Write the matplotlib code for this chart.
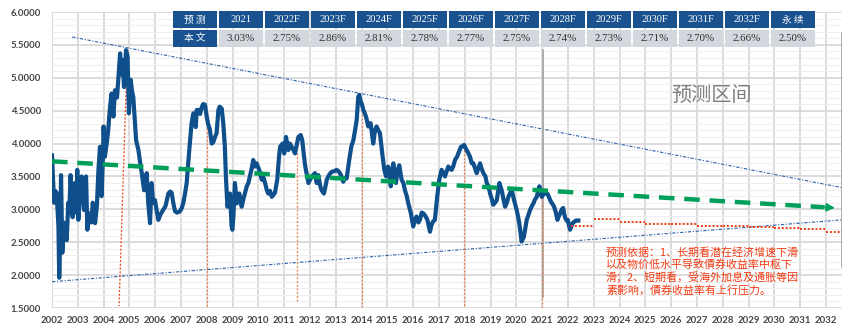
import matplotlib
matplotlib.use("Agg")
import matplotlib.pyplot as plt
from matplotlib.patches import Rectangle
from matplotlib.ticker import MultipleLocator, FormatStrFormatter

# 10y yield history (year fraction, %)
hist_t = [
    2002.00, 2002.03, 2002.08, 2002.13, 2002.18, 2002.22, 2002.25, 2002.28, 2002.32, 2002.35,
    2002.40, 2002.45, 2002.50, 2002.57, 2002.63, 2002.67, 2002.72, 2002.80, 2002.85, 2002.89,
    2002.94, 2002.98, 2003.02, 2003.08, 2003.15, 2003.24, 2003.32, 2003.37, 2003.42, 2003.47,
    2003.52, 2003.58, 2003.67, 2003.74, 2003.80, 2003.86, 2003.92, 2003.97, 2004.00, 2004.05,
    2004.12, 2004.18, 2004.25, 2004.31, 2004.38, 2004.44, 2004.52, 2004.57, 2004.64, 2004.70,
    2004.74, 2004.79, 2004.84, 2004.87, 2004.93, 2004.98, 2005.05, 2005.10, 2005.15, 2005.20,
    2005.26, 2005.35, 2005.42, 2005.48, 2005.57, 2005.62, 2005.67, 2005.73, 2005.80, 2005.86,
    2005.92, 2005.99, 2006.05, 2006.12, 2006.20, 2006.31, 2006.40, 2006.51, 2006.58, 2006.64,
    2006.70, 2006.77, 2006.85, 2006.96, 2007.03, 2007.09, 2007.16, 2007.22, 2007.32, 2007.41,
    2007.48, 2007.53, 2007.57, 2007.61, 2007.67, 2007.74, 2007.80, 2007.86, 2007.93, 2008.00,
    2008.05, 2008.12, 2008.19, 2008.25, 2008.32, 2008.38, 2008.45, 2008.50, 2008.58, 2008.64,
    2008.70, 2008.74, 2008.80, 2008.85, 2008.90, 2008.96, 2008.99, 2009.03, 2009.09, 2009.16,
    2009.26, 2009.35, 2009.44, 2009.55, 2009.61, 2009.67, 2009.74, 2009.80, 2009.87, 2009.93,
    2010.03, 2010.13, 2010.20, 2010.26, 2010.32, 2010.38, 2010.45, 2010.52, 2010.58, 2010.64,
    2010.73, 2010.80, 2010.84, 2010.94, 2011.00, 2011.07, 2011.16, 2011.22, 2011.29, 2011.36,
    2011.42, 2011.50, 2011.55, 2011.64, 2011.70, 2011.74, 2011.80, 2011.84, 2011.94, 2012.00,
    2012.07, 2012.13, 2012.19, 2012.26, 2012.32, 2012.40, 2012.45, 2012.54, 2012.60, 2012.65,
    2012.75, 2012.84, 2012.94, 2013.03, 2013.10, 2013.16, 2013.22, 2013.29, 2013.36, 2013.42,
    2013.52, 2013.60, 2013.68, 2013.75, 2013.81, 2013.87, 2013.91, 2013.96, 2014.00, 2014.07,
    2014.17, 2014.26, 2014.35, 2014.45, 2014.52, 2014.58, 2014.65, 2014.71, 2014.80, 2014.88,
    2014.95, 2015.03, 2015.08, 2015.13, 2015.18, 2015.23, 2015.28, 2015.33, 2015.40, 2015.46,
    2015.55, 2015.62, 2015.68, 2015.75, 2015.81, 2015.91, 2016.00, 2016.07, 2016.13, 2016.20,
    2016.26, 2016.33, 2016.39, 2016.47, 2016.55, 2016.60, 2016.65, 2016.70, 2016.76, 2016.84,
    2016.93, 2017.01, 2017.10, 2017.17, 2017.23, 2017.30, 2017.36, 2017.42, 2017.49, 2017.55,
    2017.62, 2017.70, 2017.75, 2017.85, 2017.92, 2017.97, 2018.07, 2018.13, 2018.20, 2018.27,
    2018.33, 2018.40, 2018.46, 2018.52, 2018.59, 2018.65, 2018.72, 2018.80, 2018.85, 2018.92,
    2018.98, 2019.05, 2019.10, 2019.17, 2019.24, 2019.34, 2019.43, 2019.50, 2019.56, 2019.63,
    2019.69, 2019.76, 2019.82, 2019.91, 2020.01, 2020.06, 2020.11, 2020.16, 2020.20, 2020.25,
    2020.29, 2020.35, 2020.40, 2020.47, 2020.53, 2020.60, 2020.66, 2020.72, 2020.79, 2020.84,
    2020.89, 2020.94, 2020.98, 2021.03, 2021.07, 2021.14, 2021.20, 2021.27, 2021.33, 2021.40,
    2021.46, 2021.53, 2021.59, 2021.65, 2021.70, 2021.76, 2021.81, 2021.86, 2021.90, 2021.95,
    2021.99, 2022.04, 2022.08, 2022.13, 2022.18, 2022.24, 2022.31, 2022.40,
]
hist_y = [
    3.82, 3.55, 3.10, 3.28, 3.25, 2.95, 2.73, 1.96, 2.60, 3.52,
    2.34, 2.80, 2.73, 2.53, 3.10, 2.95, 3.52, 2.88, 3.20, 3.40,
    2.95, 3.60, 2.84, 3.20, 3.50, 2.99, 3.50, 2.69, 2.90, 2.94,
    2.80, 3.10, 2.79, 3.05, 3.60, 3.95, 3.20, 3.75, 4.26, 3.80,
    4.00, 4.21, 4.56, 4.76, 4.41, 4.81, 4.70, 4.97, 5.37, 5.05,
    5.27, 4.86, 5.20, 5.42, 5.32, 4.46, 4.97, 4.80, 4.71, 4.40,
    4.05, 3.90, 3.70, 3.55, 3.29, 3.45, 3.55, 3.10, 2.79, 3.40,
    3.10, 3.14, 3.00, 2.84, 2.92, 2.99, 3.05, 3.24, 3.27, 3.25,
    3.10, 2.97, 2.95, 2.97, 3.02, 3.10, 3.25, 3.40, 3.90, 4.31,
    4.46, 4.40, 4.25, 4.51, 4.51, 4.45, 4.55, 4.60, 4.59, 4.40,
    4.30, 4.21, 4.00, 4.02, 4.10, 4.16, 4.51, 4.56, 4.53, 4.30,
    3.95, 3.50, 3.04, 3.15, 3.24, 2.75, 2.69, 2.89, 3.40, 3.09,
    3.24, 3.04, 3.19, 3.35, 3.40, 3.50, 3.62, 3.75, 3.65, 3.70,
    3.60, 3.45, 3.48, 3.40, 3.30, 3.24, 3.28, 3.19, 3.22, 3.25,
    3.45, 3.80, 3.95, 4.00, 3.85, 4.10, 3.90, 4.00, 3.95, 3.90,
    3.85, 4.00, 4.10, 4.13, 4.05, 3.90, 3.70, 3.60, 3.40, 3.45,
    3.50, 3.52, 3.55, 3.40, 3.52, 3.35, 3.29, 3.24, 3.35, 3.45,
    3.53, 3.57, 3.58, 3.60, 3.58, 3.55, 3.50, 3.42, 3.48, 3.47,
    3.75, 3.95, 4.05, 4.21, 4.36, 4.71, 4.74, 4.65, 4.61, 4.51,
    4.41, 4.26, 4.31, 4.00, 4.20, 4.26, 4.20, 4.16, 3.85, 3.60,
    3.50, 3.65, 3.55, 3.35, 3.55, 3.70, 3.55, 3.40, 3.60, 3.67,
    3.45, 3.40, 3.29, 3.20, 3.09, 2.94, 2.74, 2.85, 2.89, 2.80,
    2.84, 2.95, 2.94, 2.90, 2.84, 2.75, 2.66, 2.75, 2.81, 2.84,
    3.19, 3.45, 3.60, 3.55, 3.50, 3.58, 3.65, 3.62, 3.60, 3.65,
    3.75, 3.80, 3.85, 3.95, 3.96, 3.98, 3.90, 3.86, 3.80, 3.70,
    3.70, 3.62, 3.55, 3.62, 3.70, 3.62, 3.55, 3.50, 3.40, 3.35,
    3.24, 3.15, 3.07, 3.10, 3.14, 3.40, 3.29, 3.15, 3.04, 3.10,
    3.19, 3.25, 3.29, 3.14, 2.99, 2.90, 2.79, 2.65, 2.51, 2.55,
    2.58, 2.72, 2.84, 2.92, 2.99, 3.05, 3.09, 3.15, 3.19, 3.28,
    3.35, 3.25, 3.19, 3.22, 3.27, 3.24, 3.24, 3.18, 3.12, 3.08,
    3.04, 2.95, 2.84, 2.90, 2.94, 3.00, 3.02, 2.92, 2.86, 2.83,
    2.84, 2.75, 2.69, 2.74, 2.79, 2.81, 2.83, 2.83,
]

# forecast table
table_labels = ["2021", "2022F", "2023F", "2024F", "2025F", "2026F", "2027F",
                "2028F", "2029F", "2030F", "2031F", "2032F", "永续"]
table_rates = [3.03, 2.75, 2.86, 2.81, 2.78, 2.77, 2.75, 2.74, 2.73, 2.71, 2.70, 2.66, 2.50]
forecast_years = [2022, 2023, 2024, 2025, 2026, 2027, 2028, 2029, 2030, 2031, 2032]

# turning points marked with dotted verticals: (x_top, y_top, x_bottom, y_bottom)
turn_x_top = [2004.92, 2008.00, 2011.48, 2014.03, 2017.98, 2020.98]
turn_y_top = [5.42, 4.46, 3.85, 4.61, 3.90, 3.19]
turn_x_bot = [2004.60, 2008.00, 2011.48, 2014.03, 2017.98, 2020.98]
turn_y_bot = [1.53, 1.53, 1.59, 1.52, 1.50, 1.50]

# channel and trend lines
upper_x, upper_y = [2002.78, 2032.62], [5.62, 3.33]
lower_x, lower_y = [2002.00, 2032.62], [1.90, 2.84]
trend_x, trend_y = [2002.00, 2032.45], [3.73, 3.02]

note_lines = [
    "预测依据：1、长期看潜在经济增速下滑",
    "以及物价低水平导致債券收益率中枢下",
    "滑；2、短期看，受海外加息及通胀等因",
    "素影响，債券收益率有上行压力。",
]

BLUE = "#0E4F8C"
HEAD = "#1A5290"
CELL = "#D3D7DE"
GREEN = "#00A05A"
RED = "#F23A12"
ORANGE = "#F07A4A"

plt.rcParams['font.family'] = ['Lato', 'Noto Sans CJK SC', 'DejaVu Sans']

W, H = 858, 334
fig = plt.figure(figsize=(W / 100, H / 100), dpi=100)
ax = fig.add_axes([52 / W, 1 - 308 / H, (842 - 52) / W, 296 / H])

x0, x1 = 2002, 2032.62
ax.set_xlim(x0, x1)
ax.set_ylim(1.5, 6.0)

ax.set_xticks(range(2002, 2033))
ax.yaxis.set_major_locator(MultipleLocator(0.5))
ax.yaxis.set_minor_locator(MultipleLocator(0.1))
ax.yaxis.set_major_formatter(FormatStrFormatter("%.4f"))
ax.grid(which="major", color="#D9D9D9", lw=1.3, zorder=0)
ax.grid(which="minor", axis="y", color="#EEEEEE", lw=0.7, zorder=0)
ax.set_axisbelow(True)
for s in ax.spines.values():
    s.set_visible(False)
ax.tick_params(which="both", length=0)
ax.tick_params(axis="y", pad=8)
ax.tick_params(axis="x", pad=6)
for lab in ax.get_xticklabels() + ax.get_yticklabels():
    lab.set_fontsize(6.9)
    lab.set_fontweight("bold")
    lab.set_color("#454545")

# channel
ax.plot(upper_x, upper_y, color="#2A64A8", lw=0.8, ls=(0, (3, 1.5, 1, 1.5)), zorder=2)
ax.plot(lower_x, lower_y, color="#2A64A8", lw=0.8, ls=(0, (3, 1.5, 1, 1.5)), zorder=2)

# separators between history and forecast
ax.plot([2021.03, 2021.03], [5.42, 1.67], color="#A6A6A6", lw=1.3, zorder=2)
ax.plot([2032.62, 2032.62], [5.68, 2.12], color="#A6A6A6", lw=1.3, zorder=2)

# turning points
for i in range(len(turn_x_top)):
    c = RED if i == 0 else ORANGE
    ax.plot([turn_x_top[i], turn_x_bot[i]], [turn_y_top[i], turn_y_bot[i]],
            color=c, lw=0.9, ls=(0, (1.5, 1.5)), zorder=3)

# history
ax.plot(hist_t, hist_y, color=BLUE, lw=3.0, solid_joinstyle="round", zorder=4)

# forecast steps
for k, yr in enumerate(forecast_years):
    rate = table_rates[k + 1]
    a = 2022.1 if yr == 2022 else yr
    b = min(yr + 1, x1)
    ax.plot([a, b], [rate, rate], color=RED, lw=1.4, ls=(0, (1, 1)), zorder=4)

# long-run trend with arrow
slope = (trend_y[0] - trend_y[1]) / (trend_x[1] - trend_x[0])
ax.plot([trend_x[0], trend_x[1] - 0.5], [trend_y[0], trend_y[1] + slope * 0.5],
        color=GREEN, lw=3.2, ls=(0, (3.5, 2.2)), zorder=5)
ax.annotate("", xy=(trend_x[1], trend_y[1]),
            xytext=(trend_x[1] - 0.6, trend_y[1] + slope * 0.6),
            arrowprops=dict(arrowstyle="-|>", color=GREEN, lw=1, mutation_scale=13),
            zorder=5)


def fx(x):
    return x / W


def fy(y):
    return 1 - y / H


# forecast table on top of the plot
col0, colw, step = 173, 44, 46
for i in range(len(table_labels) + 1):
    left = col0 + step * i
    fig.add_artist(Rectangle((fx(left), fy(28)), colw / W, 17 / H,
                             transform=fig.transFigure, facecolor=HEAD, edgecolor="none"))
    fig.add_artist(Rectangle((fx(left), fy(47)), colw / W, 17 / H,
                             transform=fig.transFigure,
                             facecolor=HEAD if i == 0 else CELL, edgecolor="none"))
    cx = fx(left + colw / 2)
    if i == 0:
        fig.text(cx, fy(19.5), "预 测", color="white", fontsize=7, ha="center", va="center",
                 family=["Noto Sans CJK SC"])
        fig.text(cx, fy(38.5), "本 文", color="white", fontsize=7, ha="center", va="center",
                 family=["Noto Sans CJK SC"])
    else:
        lab = table_labels[i - 1]
        if lab == "永续":
            fig.text(cx, fy(19.5), "永 续", color="white", fontsize=7, ha="center", va="center",
                     family=["Noto Sans CJK SC"])
        else:
            fig.text(cx, fy(19.5), lab, color="white", fontsize=7.6, ha="center", va="center",
                     family=["Liberation Serif"])
        fig.text(cx, fy(38.5), f"{table_rates[i - 1]:.2f}%", color="#303030", fontsize=7.8,
                 ha="center", va="center", family=["Liberation Serif"])

fig.text(fx(711), fy(95), "预测区间", color="#7F7F7F", fontsize=14.5, ha="center", va="center",
         family=["Noto Sans CJK SC"])

for j, line in enumerate(note_lines):
    fig.text(fx(606), fy(252 + 12.8 * j), line, color=RED, fontsize=7.9, ha="left", va="center",
             style="italic", family=["Noto Sans CJK SC", "DejaVu Sans"])

fig.savefig("out.png", dpi=100)
